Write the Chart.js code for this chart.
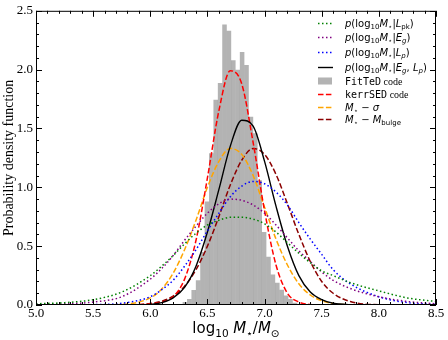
<!DOCTYPE html>
<html>
<head>
<meta charset="utf-8">
<script src="https://cdn.jsdelivr.net/npm/chart.js@4"></script>
<style>
    html, body { margin: 0; padding: 0; background: #fff; }
    #wrap { width: 448px; height: 340px; }
</style>
</head>
<body>
<div id="wrap"><canvas id="chart" width="448" height="340"></canvas></div>
<script>
// FitTeD code histogram: bin centres and heights
var binCentres = [6.3030, 6.3415, 6.3800, 6.4185, 6.4570, 6.4955, 6.5340, 6.5725, 6.6110, 6.6495, 6.6880, 6.7265, 6.7650,
    6.8035, 6.8420, 6.8805, 6.9190, 6.9575, 6.9960, 7.0345, 7.0730, 7.1115, 7.1500, 7.1885, 7.2270, 7.2655];
var binHeights = [0.025, 0.05, 0.127, 0.21, 0.45, 0.88, 1.29, 1.745, 1.886, 2.384, 2.33, 2.08, 2.0,
    2.15, 2.04, 1.6, 1.46, 1.06, 0.62, 0.41, 0.26, 0.19, 0.13, 0.08, 0.05, 0.02];

// x positions where the curves were read
var curveX = [5.0, 5.25, 5.5, 5.75, 6.0, 6.1, 6.2, 6.3, 6.4, 6.5, 6.6, 6.7, 6.8, 6.9, 7.0, 7.1, 7.2, 7.3, 7.4, 7.5, 7.6, 7.75, 8.0, 8.25, 8.5];
var pLpk = [0.01, 0.02, 0.045, 0.11, 0.25, 0.33, 0.42, 0.52, 0.61, 0.68, 0.72, 0.745, 0.745, 0.73, 0.69, 0.62, 0.53, 0.44, 0.36, 0.29, 0.25, 0.19, 0.12, 0.06, 0.03];
var pEg = [0.003, 0.01, 0.025, 0.07, 0.22, 0.31, 0.42, 0.55, 0.67, 0.78, 0.86, 0.90, 0.89, 0.85, 0.78, 0.68, 0.57, 0.46, 0.37, 0.28, 0.21, 0.14, 0.07, 0.03, 0.01];
var pLp = [0, 0, 0.003, 0.015, 0.07, 0.13, 0.21, 0.33, 0.47, 0.63, 0.78, 0.92, 1.01, 1.05, 1.03, 0.96, 0.85, 0.70, 0.56, 0.43, 0.30, 0.18, 0.07, 0.02, 0.005];
var pEgLp = [0, 0, 0, 0, 0.005, 0.02, 0.06, 0.15, 0.33, 0.62, 0.98, 1.35, 1.57, 1.52, 1.22, 0.84, 0.50, 0.25, 0.11, 0.045, 0.015, 0.003, 0, 0, 0];
var kerrSED = [0, 0, 0, 0, 0.01, 0.025, 0.07, 0.22, 0.55, 1.08, 1.65, 1.99, 1.88, 1.38, 0.80, 0.34, 0.10, 0.025, 0.005, 0, 0, 0, 0, 0, 0];
var mSigma = [0, 0, 0, 0.005, 0.06, 0.135, 0.27, 0.47, 0.72, 1.0, 1.22, 1.33, 1.28, 1.10, 0.83, 0.56, 0.34, 0.18, 0.085, 0.036, 0.013, 0.002, 0, 0, 0];
var mBulge = [0, 0, 0, 0, 0.012, 0.032, 0.075, 0.16, 0.30, 0.50, 0.75, 1.02, 1.23, 1.33, 1.28, 1.11, 0.86, 0.60, 0.37, 0.20, 0.10, 0.03, 0.002, 0, 0];

// legend labels, written as text runs (it = italic, sub = subscript, f = font)
var legendLabels = [
    [{t: 'p', it: 1}, {t: '(log'}, {t: '10', sub: 1}, {t: 'M', it: 1}, {t: '\u22c6', sub: 1}, {t: '|'}, {t: 'L', it: 1}, {t: 'pk', sub: 1}, {t: ')'}],
    [{t: 'p', it: 1}, {t: '(log'}, {t: '10', sub: 1}, {t: 'M', it: 1}, {t: '\u22c6', sub: 1}, {t: '|'}, {t: 'E', it: 1}, {t: 'g', sub: 1, it: 1}, {t: ')'}],
    [{t: 'p', it: 1}, {t: '(log'}, {t: '10', sub: 1}, {t: 'M', it: 1}, {t: '\u22c6', sub: 1}, {t: '|'}, {t: 'L', it: 1}, {t: 'p', sub: 1, it: 1}, {t: ')'}],
    [{t: 'p', it: 1}, {t: '(log'}, {t: '10', sub: 1}, {t: 'M', it: 1}, {t: '\u22c6', sub: 1}, {t: '|'}, {t: 'E', it: 1}, {t: 'g', sub: 1, it: 1}, {t: ', '}, {t: 'L', it: 1}, {t: 'p', sub: 1, it: 1}, {t: ')'}],
    [{t: 'FitTeD', f: 'DejaVu Sans Mono'}, {t: ' code', f: 'Liberation Serif'}],
    [{t: 'kerrSED', f: 'DejaVu Sans Mono'}, {t: ' code', f: 'Liberation Serif'}],
    [{t: 'M', it: 1}, {t: '\u22c6', sub: 1}, {t: ' \u2212 '}, {t: '\u03c3', it: 1}],
    [{t: 'M', it: 1}, {t: '\u22c6', sub: 1}, {t: ' \u2212 '}, {t: 'M', it: 1}, {t: 'bulge', sub: 1}]
];
var xTitle = [{t: 'log'}, {t: '10', sub: 1}, {t: ' '}, {t: 'M', it: 1}, {t: '\u22c6', sub: 1}, {t: '/'}, {t: 'M', it: 1}, {t: '\u2299', sub: 1}];

function pts(ys) {
    return curveX.map(function (x, i) { return {x: x, y: ys[i]}; });
}

function curve(label, ys, color, dash, width) {
    return {
        type: 'line', label: label, data: pts(ys), borderColor: color, backgroundColor: color,
        borderWidth: width || 1.5, borderDash: dash, pointRadius: 0, fill: false,
        cubicInterpolationMode: 'monotone', order: 1
    };
}

var DOT = [1.5, 2.5], DASH = [5.5, 2.4];

//写一段数学文本
function drawRuns(c, runs, x, y, size, family) {
    runs.forEach(function (r) {
        var s = r.sub ? size * 0.7 : size;
        c.font = (r.it ? 'italic ' : '') + s + 'px "' + (r.f || family) + '"';
        c.fillText(r.t, x, y + (r.sub ? size * 0.28 : 0));
        x += c.measureText(r.t).width;
    });
    return x;
}

function runsWidth(c, runs, size, family) {
    var w = 0;
    runs.forEach(function (r) {
        var s = r.sub ? size * 0.7 : size;
        c.font = (r.it ? 'italic ' : '') + s + 'px "' + (r.f || family) + '"';
        w += c.measureText(r.t).width;
    });
    return w;
}

var axesDecor = {
    id: 'axesDecor',
    afterDatasetsDraw: function (chart) {
        var c = chart.ctx, a = chart.chartArea, sx = chart.scales.x, sy = chart.scales.y;
        c.save();
        c.strokeStyle = '#000';
        c.lineWidth = 1;
        //刻度，朝内
        c.beginPath();
        for (var i = 0; i <= 35; i++) {
            var px = Math.round(sx.getPixelForValue(5 + i * 0.1)) + 0.5;
            var len = i % 5 == 0 ? 6 : 3;
            c.moveTo(px, a.bottom); c.lineTo(px, a.bottom - len);
            c.moveTo(px, a.top); c.lineTo(px, a.top + len);
        }
        for (var j = 0; j <= 25; j++) {
            var py = Math.round(sy.getPixelForValue(j * 0.1)) + 0.5;
            var l2 = j % 5 == 0 ? 6 : 3;
            c.moveTo(a.left, py); c.lineTo(a.left + l2, py);
            c.moveTo(a.right, py); c.lineTo(a.right - l2, py);
        }
        c.stroke();
        c.strokeRect(a.left + 0.5, a.top + 0.5, a.right - a.left - 1, a.bottom - a.top - 1);

        //x轴标题
        c.fillStyle = '#000';
        c.textBaseline = 'alphabetic';
        var w = runsWidth(c, xTitle, 15, 'DejaVu Sans');
        drawRuns(c, xTitle, (a.left + a.right) / 2 - w / 2, 333, 15, 'DejaVu Sans');

        //图例
        var rows = [23, 37, 52, 67, 81, 94, 107, 119];
        chart.data.datasets.forEach(function (ds, k) {
            var yy = rows[k];
            if (ds.type == 'bar') {
                c.fillStyle = ds.backgroundColor;
                c.fillRect(318, yy - 3.5, 14, 7);
            } else {
                c.strokeStyle = ds.borderColor;
                c.lineWidth = ds.borderWidth;
                c.setLineDash(ds.borderDash || []);
                c.beginPath(); c.moveTo(318, yy + 0.5); c.lineTo(333, yy + 0.5); c.stroke();
                c.setLineDash([]);
            }
            c.fillStyle = '#000';
            drawRuns(c, legendLabels[k], 345, yy + 3.5, 10, 'DejaVu Sans');
        });
        c.restore();
    }
};

var tickFont = {family: 'Liberation Serif', size: 13};

new Chart(document.getElementById('chart').getContext('2d'), {
    type: 'line',
    data: {
        datasets: [
            curve('p(log10 M|Lpk)', pLpk, 'green', DOT),
            curve('p(log10 M|Eg)', pEg, 'purple', DOT),
            curve('p(log10 M|Lp)', pLp, 'blue', DOT),
            curve('p(log10 M|Eg,Lp)', pEgLp, 'black', [], 1.4),
            {
                type: 'bar', label: 'FitTeD code',
                data: binCentres.map(function (x, i) { return {x: x, y: binHeights[i]}; }),
                backgroundColor: 'rgba(128,128,128,0.6)', borderWidth: 0, inflateAmount: 0,
                barThickness: 4.55, grouped: false, order: 10
            },
            curve('kerrSED code', kerrSED, 'red', DASH),
            curve('M - sigma', mSigma, 'orange', DASH),
            curve('M - Mbulge', mBulge, 'darkred', DASH)
        ]
    },
    options: {
        responsive: false,
        animation: false,
        layout: {padding: {top: 9, right: 12, left: 0, bottom: 0}},
        plugins: {legend: {display: false}, tooltip: {enabled: false}},
        scales: {
            x: {
                type: 'linear', min: 5, max: 8.5, offset: false,
                afterFit: function (s) { s.height = 35; },
                grid: {display: false, drawTicks: false},
                border: {display: false},
                ticks: {stepSize: 0.5, padding: 1, maxRotation: 0, autoSkip: false, color: '#000', font: tickFont,
                    callback: function (v) { return v.toFixed(1); }}
            },
            y: {
                type: 'linear', min: 0, max: 2.5,
                afterFit: function (s) { s.width = 36; },
                grid: {display: false, drawTicks: false},
                border: {display: false},
                ticks: {stepSize: 0.5, padding: 3, color: '#000', font: tickFont,
                    callback: function (v) { return v.toFixed(1); }},
                title: {display: true, text: 'Probability density function', color: '#000',
                    font: {family: 'Liberation Serif', size: 14}, padding: {top: 1, bottom: 0}}
            }
        }
    },
    plugins: [axesDecor]
});
</script>
</body>
</html>
